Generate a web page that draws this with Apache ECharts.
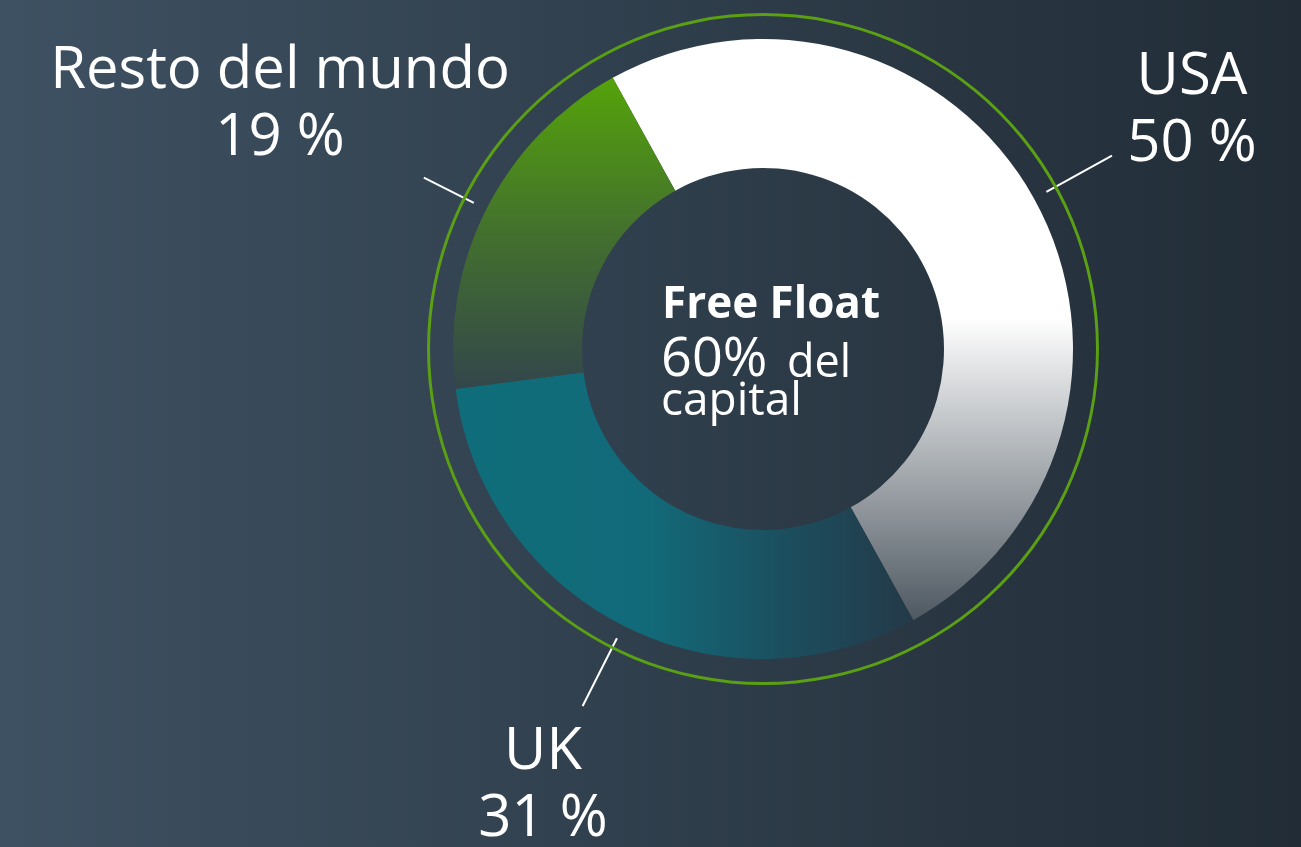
<!DOCTYPE html>
<html>
<head>
<meta charset="utf-8">
<script src="https://cdn.jsdelivr.net/npm/echarts@6/dist/echarts.min.js"></script>
<style>
  html, body { margin: 0; padding: 0; width: 100%; height: 100%; overflow: hidden; }
  #chart { width: 1301px; height: 847px; }
</style>
</head>
<body>
<div id="chart"></div>
<script>
// datos
const regions = ['USA', 'UK', 'Resto del mundo']
const shares = [50, 31, 19]
const centerTitle = 'Free Float'
const centerValue = '60%'
const centerRest = ['del', 'capital']

// posiciones de las etiquetas (centro del bloque de texto) y largo de la línea
const labelCenters = [[1192, 111], [543, 786], [280, 105]]
const lineEnds = [399, 400, 380]
const cx = 763, cy = 349
const font = 'Open Sans'

function grad(x, y, x2, y2, stops) {
    return new echarts.graphic.LinearGradient(x, y, x2, y2, stops.map(s => ({ offset: s[0], color: s[1] })))
}

const sliceColors = [
    grad(0, 0, 0, 1, [[0, '#ffffff'], [0.48, '#ffffff'], [1, '#4e5861']]),
    grad(0, 0, 1, 0, [[0, '#0f6d7a'], [0.42, '#126a79'], [0.7, '#1b5060'], [1, '#243948']]),
    grad(0, 0, 0, 1, [[0, '#55a30a'], [0.5, '#43702e'], [1, '#33464b']])
]

const chart = echarts.init(document.getElementById('chart'))
const option = {
    backgroundColor: grad(0, 0, 1, 0, [[0, '#3e5162'], [1, '#212c36']]),
    animation: false,
    series: [
        {
            // anillo verde exterior
            type: 'pie',
            silent: true,
            center: [cx, cy],
            radius: [333, 336],
            label: { show: false },
            labelLine: { show: false },
            itemStyle: { color: '#5a9f14' },
            data: [{ value: 1, name: 'ring' }]
        },
        {
            type: 'pie',
            center: [cx, cy],
            radius: [181, 310],
            startAngle: 119,
            clockwise: true,
            avoidLabelOverlap: false,
            data: regions.map((r, i) => ({
                name: r,
                value: shares[i],
                itemStyle: { color: sliceColors[i] }
            })),
            label: {
                show: true,
                position: 'outside',
                formatter: '{b}\n{c} %',
                color: '#ffffff',
                fontFamily: font,
                fontSize: 58,
                lineHeight: 67,
                align: 'center'
            },
            labelLine: {
                show: true,
                lineStyle: { color: '#ffffff', width: 2 }
            },
            labelLayout: function (params) {
                const p0 = params.labelLinePoints[0]
                const dx = p0[0] - cx, dy = p0[1] - cy
                const d = Math.hypot(dx, dy)
                const ux = dx / d, uy = dy / d
                const r1 = lineEnds[params.dataIndex]
                const a = [cx + ux * 324, cy + uy * 324]
                const b = [cx + ux * r1, cy + uy * r1]
                const pos = labelCenters[params.dataIndex]
                return {
                    x: pos[0],
                    y: pos[1],
                    align: 'center',
                    verticalAlign: 'middle',
                    labelLinePoints: [a, b, b]
                }
            }
        }
    ],
    graphic: [
        {
            type: 'text', left: 662, top: 283,
            style: { text: centerTitle, fill: '#ffffff', font: 'bold 44px "Open Sans"' }
        },
        {
            type: 'text', left: 661, top: 334,
            style: { text: centerValue, fill: '#ffffff', font: '54px "Open Sans"' }
        },
        {
            type: 'text', left: 787, top: 342,
            style: { text: centerRest[0], fill: '#ffffff', font: '45px "Open Sans"' }
        },
        {
            type: 'text', left: 661, top: 379,
            style: { text: centerRest[1], fill: '#ffffff', font: '46px "Open Sans"' }
        }
    ]
}
chart.setOption(option)
</script>
</body>
</html>
